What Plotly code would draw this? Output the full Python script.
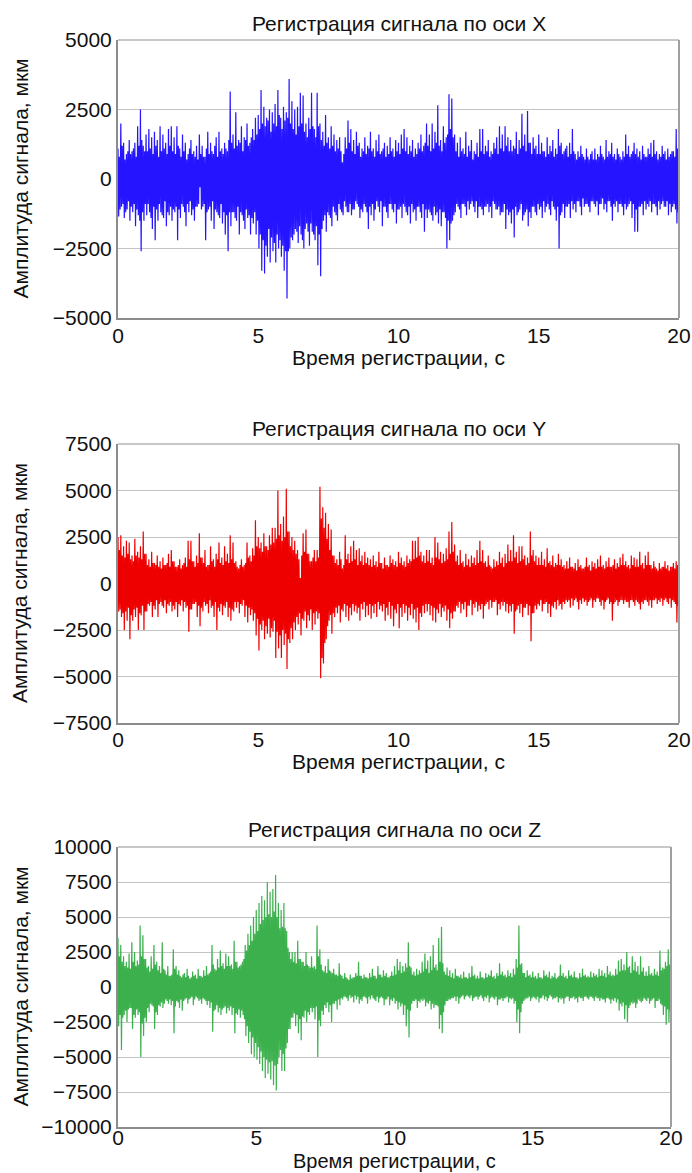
import numpy as np
import plotly.graph_objects as go

# Sampling: 20 s of record, 0.025 s step
duration_s = 20
n_samples = 801
time_s = np.linspace(0, duration_s, n_samples)

# Signal amplitude, um (rows = one second each, 40 samples per row)
signal_x = [
    1100,-1350,800,-1100, 2000,-1000,1200,-900, 1300,-1400,700,-1200, 900,-1100,1000,-800, 1400,-1500,900,-1000, 1000,-1200,1100,-900, 1300,-1700,800,-1100, 1900,-1300,1200,-1500, 2500,-2600,1400,-1200, 1200,-1500,1000,-900,
    1600,-1300,1000,-900, 1800,-1200,1100,-1400, 1500,-1800,900,-1000, 1700,-2200,1200,-1100, 1400,-1500,800,-900, 1900,-1200,1000,-1300, 1600,-1400,1100,-800, 1300,-1700,900,-1200, 1800,-1300,1200,-1000, 1900,-1500,1000,-1100,
    1500,-1200,900,-1000, 1900,-2200,1200,-1100, 1100,-1400,800,-900, 1600,-1000,1000,-1200, 1300,-1700,700,-900, 900,-1200,1100,-800, 1400,-1300,900,-1100, 1000,-1500,800,-1000, 1200,-1000,700,-900, 1600,-300,900,-1100,
    1200,-1000,800,-900, 800,-2200,1100,-1200, 1700,-1100,900,-1000, 1300,-1500,1000,-800, 900,-1800,1200,-1100, 1500,-1200,800,-1300, 1700,-1400,1000,-900, 1100,-1600,900,-1200, 1300,-2000,1100,-1300, 1000,-2600,1400,-1200,
    3150,-1700,1300,-1200, 1600,-1200,1100,-1400, 2400,-1500,1200,-1000, 1400,-2000,1300,-1200, 1900,-1300,1000,-1500, 1500,-1800,1400,-1100, 2000,-1400,1200,-1300, 1300,-2000,1500,-1400, 1800,-1600,1400,-1200, 2200,-2000,1600,-1500,
    2300,-2500,1800,-2000, 3200,-3300,2000,-2200, 2600,-3400,1900,-2400, 2200,-2800,2100,-1800, 2500,-3000,1700,-2100, 2400,-2600,2000,-2300, 2700,-3000,1900,-2000, 3200,-2500,2300,-2200, 2200,-2800,1800,-2400, 2600,-3300,2100,-2600,
    2400,-4300,2200,-2600, 3600,-2500,2000,-2100, 2800,-2200,1800,-2000, 2500,-1800,1600,-1900, 2600,-2300,1900,-1700, 3100,-2000,2000,-2200, 3000,-2500,1700,-1800, 2000,-1600,1500,-1900, 2200,-2400,1800,-1600, 3100,-1900,1900,-2000,
    1800,-2200,1500,-1700, 3100,-3100,1900,-2000, 2000,-3500,1400,-1800, 1700,-1500,1200,-1300, 2300,-1900,1300,-1200, 1500,-1300,1100,-1400, 1900,-1700,1200,-1000, 1600,-1200,1000,-1300, 1400,-1500,1100,-900, 1500,-1100,1000,-1200,
    600,-1300,900,-800, 1500,-1000,1100,-1200, 2100,-1200,1300,-900, 1800,-1300,1000,-1100, 1400,-1100,900,-800, 1700,-900,1200,-1000, 1300,-1400,800,-1100, 1100,-1200,1000,-900, 1500,-1000,900,-1200, 1200,-1800,1100,-1000,
    1700,-1300,1000,-900, 1100,-1500,800,-1100, 1400,-800,1000,-1000, 1600,-1200,900,-800, 1000,-1700,1100,-1000, 1300,-1000,800,-1200, 1200,-1400,900,-900, 1500,-900,1000,-1100, 1100,-1200,800,-900, 1400,-1600,1000,-1100,
    1300,-1100,900,-1000, 1600,-1400,1100,-900, 1800,-1000,1000,-1200, 1500,-1300,900,-1000, 1200,-1600,1000,-900, 1400,-1200,800,-1100, 1100,-1500,900,-1000, 1300,-1000,1100,-1200, 1600,-1400,1000,-900, 1200,-1900,1300,-1100,
    2000,-1400,1200,-1100, 1600,-1200,1000,-1300, 2000,-1500,1100,-1000, 1700,-1300,1300,-1200, 2650,-1600,1200,-1100, 1400,-1700,1000,-1200, 1900,-1200,1300,-1400, 1500,-2500,1600,-1500, 3050,-2200,1800,-1600, 2900,-1500,1500,-1300,
    1600,-1200,1000,-900, 1300,-1000,800,-1100, 1500,-1400,1000,-900, 1100,-900,900,-1000, 1700,-1300,800,-800, 1200,-1100,1000,-900, 1400,-800,700,-1000, 1000,-1200,900,-800, 1300,-1400,800,-1000, 1800,-1000,1000,-1100,
    1800,-1300,900,-1000, 1200,-1000,1000,-900, 1400,-1200,800,-1000, 1000,-1400,900,-800, 1300,-900,1100,-1100, 1500,-1100,900,-1000, 1900,-1300,1100,-1200, 1600,-1200,1000,-900, 1900,-1800,1200,-1100, 1500,-1300,1000,-1200,
    1400,-1600,1000,-1100, 1200,-2100,1100,-1000, 1700,-1300,900,-1200, 1400,-1100,1100,-900, 2350,-1500,1200,-1300, 1600,-1200,1000,-1100, 2450,-1700,1300,-1200, 1300,-1400,900,-1000, 1500,-1000,1100,-1200, 1200,-1300,900,-900,
    1600,-1100,900,-1000, 1300,-1400,1000,-800, 1000,-1200,800,-1000, 1500,-900,900,-1100, 1200,-1300,1000,-800, 1400,-1000,800,-1100, 1100,-1500,900,-1000, 1800,-2500,1200,-1300, 1300,-1200,900,-900, 1000,-1400,1100,-1000,
    1200,-1000,800,-900, 1300,-1400,900,-800, 1800,-1100,1000,-900, 900,-1200,700,-800, 1000,-800,800,-1000, 1200,-1300,900,-700, 800,-1000,700,-900, 1100,-900,800,-1000, 700,-1200,900,-800, 1000,-800,700,-900,
    1100,-1000,700,-800, 900,-1300,800,-900, 1200,-900,900,-700, 800,-1100,700,-900, 1400,-1200,800,-800, 1000,-800,900,-1000, 1300,-1500,800,-900, 900,-1000,700,-800, 1100,-1200,900,-900, 800,-900,700,-1000,
    1000,-1300,800,-900, 1600,-1100,900,-1000, 1200,-900,800,-800, 900,-1400,1000,-900, 1300,-1900,900,-1100, 1100,-1900,800,-1000, 1000,-1000,700,-900, 1200,-1300,900,-800, 800,-1100,800,-900, 1100,-1000,900,-800,
    1300,-1200,800,-900, 1400,-900,900,-1000, 1000,-1300,700,-800, 900,-1100,800,-900, 1200,-800,900,-1000, 1000,-1000,700,-800, 1100,-1300,800,-900, 900,-1200,1000,-1000, 1000,-900,800,-1100, 1800,-1600,1100,-1200,
    800,
]

signal_y = [
    2500,-1500,1800,-1400, 2600,-1800,1500,-1600, 2000,-2500,1400,-1500, 2300,-2000,1600,-1300, 2200,-3000,1300,-1700, 1500,-2000,1200,-1400, 2400,-1800,1500,-1300, 1700,-2500,1400,-1600, 2000,-1700,1300,-1200, 2800,-2500,1600,-1500,
    1600,-1500,1000,-1100, 1300,-1200,900,-1000, 1700,-1800,1100,-1200, 1100,-1400,1000,-900, 1500,-1800,900,-1100, 1200,-1000,800,-1200, 1400,-1300,1000,-900, 1000,-1600,1100,-1100, 1600,-1200,900,-1000, 1800,-1500,1200,-1200,
    1200,-1400,900,-1000, 900,-1800,1000,-1100, 1300,-1200,800,-900, 1000,-1500,1100,-1000, 1400,-1300,900,-1200, 2300,-2600,1300,-1400, 2300,-1400,1200,-1100, 1200,-1100,900,-1000, 1500,-1800,1100,-1200, 2700,-2300,1400,-1300,
    1400,-1500,1100,-1000, 1800,-1200,900,-1100, 1000,-1600,1000,-900, 2000,-1300,1200,-1200, 1300,-1800,900,-1000, 1600,-2500,1300,-1300, 2200,-1500,1100,-1100, 1400,-1700,1000,-1200, 2000,-1300,1200,-1000, 1600,-1800,1100,-1300,
    2600,-2000,1300,-1400, 2200,-1500,1100,-1000, 1200,-1300,900,-1000, 800,-1600,1000,-1100, 1300,-1200,900,-900, 1000,-1800,1100,-1200, 2200,-2100,1400,-1300, 1500,-1700,1200,-1400, 1900,-2000,1500,-1600, 3400,-2800,2000,-1900,
    2500,-3600,1900,-2200, 2200,-2500,1700,-2000, 2700,-3000,2000,-2300, 2000,-2700,1800,-1900, 2600,-2900,2100,-2400, 3000,-2600,2200,-2000, 3000,-4000,2400,-2600, 5000,-3500,2600,-2800, 3200,-4000,2300,-2500, 3600,-3300,2500,-2700,
    5100,-4600,2800,-3000, 2800,-3200,2000,-2400, 2500,-3000,1800,-2100, 2300,-2500,1600,-1800, 1800,-2200,1300,-1600, 300,-2800,1500,-1900, 2700,-2000,1700,-1500, 2900,-2400,1600,-1700, 1600,-2000,1200,-1400, 1200,-2500,1400,-1600,
    1800,-2200,1200,-1500, 1800,-1900,1400,-1600, 5200,-5100,3500,-4000, 4100,-4300,3000,-3200, 3800,-3000,2400,-2300, 3200,-2000,1800,-1700, 2900,-2700,1500,-1600, 1500,-1800,1100,-1300, 1300,-1600,1000,-1200, 1700,-2100,1300,-1400,
    800,-1500,1000,-1100, 2600,-1800,1300,-1200, 1600,-2000,1100,-1300, 2000,-1700,1200,-1100, 2300,-1500,1300,-1200, 1800,-1600,1000,-1300, 1900,-2000,1200,-1100, 1500,-1400,1000,-1000, 1700,-1800,1100,-1200, 1400,-1700,1000,-1100,
    1300,-1900,900,-1200, 1500,-1600,1000,-1100, 1200,-1800,900,-1000, 1700,-1400,1100,-1200, 1100,-1500,800,-1100, 1400,-2000,1000,-1300, 1000,-1700,900,-1000, 1500,-1900,1100,-1200, 1300,-2300,1000,-1400, 1200,-1600,900,-1100,
    1700,-2400,1100,-1300, 1400,-1800,1000,-1100, 1200,-1600,900,-1200, 1500,-2000,1100,-1300, 1300,-1700,1200,-1100, 2300,-1900,1300,-1400, 2300,-2100,1400,-1300, 2500,-2500,1500,-1600, 1700,-1800,1200,-1200, 1500,-1600,1100,-1100,
    1800,-1500,1200,-1100, 1800,-1700,1100,-1200, 1400,-2000,1000,-1300, 2500,-2100,1400,-1400, 2200,-1600,1300,-1100, 1700,-1800,1100,-1300, 1600,-1500,1200,-1200, 1900,-2000,1300,-1400, 2800,-2400,1600,-1600, 3300,-1900,1700,-1500,
    2100,-1500,1200,-1200, 1500,-1300,1000,-1000, 1800,-1600,1100,-1100, 1200,-1400,900,-1000, 1600,-1800,1000,-1200, 1300,-1200,900,-900, 1500,-1700,1100,-1100, 1400,-1300,1000,-1000, 1800,-1500,1100,-1200, 2300,-1400,1200,-1100,
    1800,-1900,1100,-1200, 1200,-1100,900,-1000, 1500,-1400,1000,-900, 900,-1300,800,-1000, 1300,-1000,900,-900, 1200,-1700,1000,-1100, 1700,-1400,1100,-1000, 1400,-1200,900,-1000, 1600,-1500,1100,-1100, 2100,-1600,1200,-1200,
    1800,-1500,1200,-1100, 2600,-2700,1400,-1500, 1700,-1400,1100,-1200, 2000,-1600,1200,-1100, 2000,-1800,1300,-1300, 1500,-1300,1000,-1100, 1400,-1700,1100,-1200, 2800,-3100,1500,-1600, 1800,-1600,1200,-1200, 1500,-1400,1000,-1100,
    1400,-1200,1000,-900, 1700,-1500,1000,-1100, 1300,-1100,900,-1000, 1900,-1600,1100,-1100, 1200,-1800,1000,-1200, 1500,-1300,900,-1000, 1100,-1400,1000,-900, 1600,-1200,1000,-1100, 1300,-1400,900,-1000, 1000,-1100,800,-900,
    1200,-1000,800,-900, 1400,-1300,900,-800, 900,-1200,800,-900, 1100,-800,700,-1000, 1300,-1400,900,-900, 1000,-1100,800,-800, 800,-1000,900,-900, 1400,-1200,900,-1000, 1000,-900,700,-800, 1200,-1300,900,-900,
    1100,-1000,800,-800, 1300,-800,900,-1000, 1500,-1200,900,-900, 1000,-1400,800,-1000, 1200,-900,900,-800, 1400,-1100,900,-1000, 900,-2000,1000,-1100, 1300,-1000,800,-900, 1100,-1200,900,-1000, 1400,-900,1000,-900,
    1600,-1100,1000,-900, 1200,-1000,900,-1000, 1000,-1300,800,-900, 1500,-900,1000,-1000, 1400,-1200,900,-900, 1300,-1000,900,-1100, 1700,-1400,1000,-1000, 1100,-1100,800,-900, 1500,-900,1000,-1000, 1700,-1200,1000,-900,
    1000,-1300,800,-900, 1200,-900,900,-800, 800,-1100,700,-900, 1100,-1000,800,-800, 900,-1200,900,-900, 1200,-800,800,-1000, 1000,-1100,700,-800, 900,-1300,900,-900, 1100,-1000,800,-1100, 1200,-2100,1000,-1200,
    1200,
]

signal_z = [
    3500,-2800,2200,-2000, 3000,-4500,1800,-2200, 2200,-2000,1500,-1700, 1800,-2500,1400,-1600, 2400,-1500,1300,-1500, 3200,-3000,1800,-2000, 2500,-2200,1500,-1600, 1900,-2000,1600,-1800, 4400,-5000,2200,-2600, 3700,-3500,2000,-2200,
    2000,-2500,1400,-1500, 1500,-1800,1100,-1200, 2200,-1300,1300,-1400, 3000,-3000,1600,-1800, 1800,-2000,1200,-1300, 1500,-1400,1000,-1100, 3200,-1500,1300,-1200, 1200,-900,900,-1000, 1500,-1200,800,-900, 800,-1300,900,-1000,
    2700,-3300,1300,-1400, 1500,-1000,900,-1100, 1200,-1500,800,-900, 700,-1700,900,-1000, 1000,-900,700,-800, 1300,-1200,800,-900, 600,-800,700,-700, 1100,-1300,800,-900, 900,-700,600,-800, 1300,-1000,800,-900,
    800,-1200,700,-800, 1200,-900,800,-1000, 1500,-1300,900,-1000, 1000,-1500,1100,-1100, 3000,-3200,1600,-1700, 1300,-1600,1200,-1300, 2000,-1800,1400,-1500, 2600,-2000,1500,-1600, 1700,-1500,1300,-1400, 2400,-1900,1500,-1500,
    2200,-1700,1500,-1400, 1600,-2000,1300,-1500, 3300,-3300,1800,-1900, 1800,-2000,1400,-1600, 1500,-2200,1600,-1700, 1800,-2000,2000,-2300, 3000,-3500,2600,-2800, 3800,-4000,3000,-3200, 4400,-4800,3300,-3600, 5000,-5000,3800,-4000,
    5500,-5200,4000,-4300, 6000,-5500,4500,-4600, 6500,-6000,4800,-5000, 6200,-6500,5000,-5200, 7500,-6200,5200,-5400, 6800,-6600,5000,-5300, 7000,-7000,5400,-5600, 8000,-7400,5000,-5500, 6000,-5000,4200,-4500, 5500,-6000,4300,-4800,
    6000,-6000,4200,-4400, 4000,-4000,2800,-3000, 2500,-3000,2000,-2200, 2500,-2200,1800,-1900, 2500,-2800,1700,-2000, 3300,-3300,2000,-2300, 2000,-3800,1800,-2100, 1800,-2200,1500,-1700, 2500,-2500,1600,-1800, 1500,-2000,1400,-1500,
    2200,-1800,1400,-1500, 1500,-2300,1300,-1400, 4400,-5000,2200,-2400, 2700,-2800,1600,-1700, 1200,-2000,1100,-1300, 1500,-1500,1000,-1100, 2000,-1800,1200,-1300, 1100,-2500,1000,-1200, 1300,-1200,900,-1000, 900,-1600,800,-900,
    1700,-1300,900,-800, 800,-900,600,-700, 1000,-700,700,-800, 600,-1000,500,-600, 900,-800,600,-700, 700,-1100,700,-600, 1000,-900,800,-700, 1800,-1200,800,-900, 800,-1000,600,-700, 900,-700,700,-800,
    700,-1200,600,-700, 1000,-900,700,-600, 1300,-800,800,-900, 800,-1000,600,-700, 1500,-1100,900,-800, 900,-700,700,-800, 1200,-1300,800,-900, 1000,-900,700,-700, 700,-1300,800,-900, 1100,-1000,800,-800,
    1500,-1200,900,-1000, 2000,-1600,1200,-1100, 1800,-1400,1000,-1200, 1500,-2000,1100,-1300, 1700,-2800,1400,-1600, 3200,-3600,1500,-1700, 1400,-1200,900,-1000, 1100,-1000,800,-900, 1300,-1500,900,-1000, 1200,-1100,1000,-900,
    1800,-1000,1100,-900, 2400,-1400,1300,-1100, 1900,-1200,1000,-1000, 2200,-1600,1200,-1200, 3000,-1500,1400,-1300, 1600,-1300,1200,-1400, 3500,-3000,1800,-2000, 4300,-3300,1700,-1800, 1100,-1300,900,-1000, 1400,-1000,800,-900,
    1200,-900,700,-800, 1000,-800,600,-700, 1300,-1000,800,-700, 800,-1200,700,-800, 900,-700,600,-600, 1100,-900,700,-700, 700,-600,600,-700, 1000,-800,700,-600, 1500,-1000,800,-800, 900,-700,600,-700,
    800,-900,600,-700, 1100,-600,700,-800, 700,-1000,600,-700, 1000,-800,700,-600, 900,-1100,800,-800, 1200,-700,700,-800, 800,-900,600,-700, 1000,-1300,800,-900, 1700,-900,900,-800, 1100,-1000,800,-800,
    900,-800,700,-700, 1200,-1100,800,-800, 1000,-900,700,-800, 1300,-1200,900,-1000, 2000,-2500,1400,-1600, 4400,-3300,1600,-1800, 1700,-1200,1000,-1000, 1000,-900,700,-800, 1200,-800,800,-700, 900,-1000,700,-800,
    1100,-700,700,-800, 800,-900,600,-700, 1000,-1100,700,-800, 700,-800,600,-600, 1200,-900,800,-700, 900,-1000,700,-800, 1100,-600,600,-700, 800,-900,700,-800, 1000,-800,600,-700, 700,-1100,800,-800,
    1600,-900,800,-800, 1000,-1200,700,-800, 800,-700,600,-700, 1200,-1000,800,-800, 900,-800,700,-700, 1100,-900,700,-800, 700,-1100,600,-700, 1000,-800,700,-800, 1300,-1000,800,-700, 900,-700,700,-800,
    800,-900,700,-700, 1100,-700,700,-800, 1000,-1000,800,-700, 900,-800,700,-800, 1300,-1000,800,-800, 1200,-900,800,-900, 1000,-1100,700,-800, 1500,-800,900,-900, 1100,-1200,800,-900, 900,-1000,800,-800,
    1300,-1100,900,-900, 1900,-1700,1100,-1200, 2000,-1400,1200,-1100, 1600,-2300,1200,-1300, 2500,-2500,1400,-1500, 1500,-1300,1000,-1100, 2200,-1200,1200,-1100, 1800,-1500,1100,-1200, 1500,-900,900,-1000, 2200,-1100,1100,-1000,
    1400,-800,800,-900, 1100,-1000,800,-800, 1500,-1200,900,-1000, 1000,-900,800,-800, 1300,-1500,900,-1000, 1100,-1000,800,-900, 2600,-1200,1200,-1300, 1400,-2000,1300,-1400, 1800,-2700,1500,-1600, 2700,-2500,1600,-1700,
    2000,
]

titles = ["Регистрация сигнала по оси X", "Регистрация сигнала по оси Y", "Регистрация сигнала по оси Z"]
x_title = "Время регистрации, с"
y_title = "Амплитуда сигнала, мкм"
y_ranges = [(-5000, 5000), (-7500, 7500), (-10000, 10000)]
x_ticks = [0, 5, 10, 15, 20]
colors = ["#2414ff", "#ef0000", "#3bb04c"]

W, H = 692, 1173
# plot areas in pixels: (left, right, top, bottom)
boxes = [(118, 679, 40, 318), (118, 679, 444, 723), (118, 671, 847, 1127)]
title_y = [23, 428, 829]
xtitle_y = [357, 761, None]   # last one sits on the bottom edge
tick_standoff = [-2, -3, -9]
xtitle_fs = [21, 21, 20]

FONT = "Liberation Sans, Arial, sans-serif"
FS = 21

fig = go.Figure()
series = [signal_x, signal_y, signal_z]
for i, s in enumerate(series):
    xa = "x" if i == 0 else f"x{i+1}"
    ya = "y" if i == 0 else f"y{i+1}"
    fig.add_trace(go.Scatter(x=time_s, y=s, mode="lines",
                             line=dict(color=colors[i], width=1.2, simplify=False),
                             xaxis=xa, yaxis=ya, hoverinfo="skip"))

layout = dict(width=W, height=H, autosize=False, margin=dict(l=0, r=0, t=0, b=0, pad=0, autoexpand=False),
              paper_bgcolor="white", plot_bgcolor="white", showlegend=False,
              font=dict(family=FONT, size=FS, color="#111"))
annotations = []
shapes = []
for i in range(3):
    l, r, t, b = boxes[i]
    xk = "xaxis" if i == 0 else f"xaxis{i+1}"
    yk = "yaxis" if i == 0 else f"yaxis{i+1}"
    xa = "x" if i == 0 else f"x{i+1}"
    ya = "y" if i == 0 else f"y{i+1}"
    layout[xk] = dict(domain=[l / W, r / W], anchor=ya, range=[0, 20], automargin=False,
                      tickvals=x_ticks, showgrid=False, zeroline=False,
                      showline=True, linecolor="#8c8c8c", linewidth=2,
                      ticks="", ticklabelstandoff=tick_standoff[i],
                      tickfont=dict(size=FS, family=FONT, color="#111"))
    y0, y1 = y_ranges[i]
    layout[yk] = dict(domain=[1 - b / H, 1 - t / H], anchor=xa, range=[y0, y1], automargin=False,
                      dtick=2500, tick0=0, tickformat="d", showgrid=True, gridcolor="#c4c4c4", gridwidth=1,
                      zeroline=False, showline=True, linecolor="#8c8c8c", linewidth=2,
                      ticks="", tickfont=dict(size=FS, family=FONT, color="#111"))
    # top and right borders
    shapes.append(dict(type="line", xref=f"{xa} domain", yref=f"{ya} domain",
                       x0=0, x1=1, y0=1, y1=1, line=dict(color="#c8c8c8", width=2), layer="below"))
    shapes.append(dict(type="line", xref=f"{xa} domain", yref=f"{ya} domain",
                       x0=1, x1=1, y0=0, y1=1, line=dict(color="#a0a0a0", width=2), layer="above"))
    cx = (l + r) / 2 / W
    annotations.append(dict(text=titles[i], x=cx, y=1 - title_y[i] / H, xref="paper", yref="paper",
                            xanchor="center", yanchor="middle", showarrow=False,
                            font=dict(size=FS, family=FONT, color="#111")))
    if xtitle_y[i] is None:
        annotations.append(dict(text=x_title, x=cx, y=0, xref="paper", yref="paper",
                                xanchor="center", yanchor="bottom", showarrow=False, borderpad=0,
                                font=dict(size=xtitle_fs[i], family=FONT, color="#111")))
    else:
        annotations.append(dict(text=x_title, x=cx, y=1 - xtitle_y[i] / H, xref="paper", yref="paper",
                                xanchor="center", yanchor="middle", showarrow=False,
                                font=dict(size=xtitle_fs[i], family=FONT, color="#111")))
    annotations.append(dict(text=y_title, x=19.5 / W, y=1 - (t + b) / 2 / H, xref="paper", yref="paper",
                            xanchor="center", yanchor="middle", textangle=-90, showarrow=False,
                            font=dict(size=FS, family=FONT, color="#111")))
layout["annotations"] = annotations
layout["shapes"] = shapes
fig.update_layout(**layout)
fig.write_html("out.html")
